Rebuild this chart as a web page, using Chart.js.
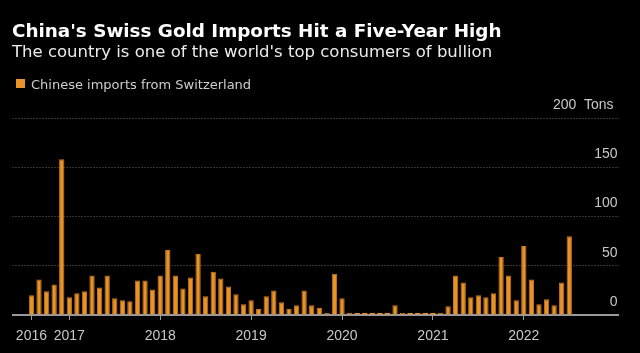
<!DOCTYPE html>
<html>
<head>
<meta charset="utf-8">
<script src="https://cdn.jsdelivr.net/npm/chart.js@4"></script>
<style>
  html, body { margin: 0; padding: 0; background: #000; }
  body { width: 640px; height: 353px; position: relative; overflow: hidden; }
  #grafico { position: absolute; left: 0; top: 0; }
  .txt { position: absolute; white-space: nowrap; line-height: 1; font-family: "DejaVu Sans", sans-serif; }
  #titulo { left: 12px; top: 21.7px; font-size: 18.35px; font-weight: bold; color: #fff; }
  #subtitulo { left: 12px; top: 44px; font-size: 16.5px; color: #ececec; }
  #leyenda { left: 31px; top: 78px; font-size: 13px; color: #cfcfcf; }
  #cuadro { position: absolute; left: 16px; top: 78.5px; width: 9px; height: 9px; background: #e8922a; }
</style>
</head>
<body>
<canvas id="grafico" width="640" height="353"></canvas>
<div class="txt" id="titulo">China's Swiss Gold Imports Hit a Five-Year High</div>
<div class="txt" id="subtitulo">The country is one of the world's top consumers of bullion</div>
<div id="cuadro"></div>
<div class="txt" id="leyenda">Chinese imports from Switzerland</div>
<script>
// --- Datos ---
// meses desde jun 2016 hasta ene 2023 (los extremos quedan vacios)
const meses = [
  '2016-06', '2016-07', '2016-08', '2016-09', '2016-10', '2016-11', '2016-12',
  '2017-01', '2017-02', '2017-03', '2017-04', '2017-05', '2017-06', '2017-07', '2017-08', '2017-09', '2017-10', '2017-11', '2017-12',
  '2018-01', '2018-02', '2018-03', '2018-04', '2018-05', '2018-06', '2018-07', '2018-08', '2018-09', '2018-10', '2018-11', '2018-12',
  '2019-01', '2019-02', '2019-03', '2019-04', '2019-05', '2019-06', '2019-07', '2019-08', '2019-09', '2019-10', '2019-11', '2019-12',
  '2020-01', '2020-02', '2020-03', '2020-04', '2020-05', '2020-06', '2020-07', '2020-08', '2020-09', '2020-10', '2020-11', '2020-12',
  '2021-01', '2021-02', '2021-03', '2021-04', '2021-05', '2021-06', '2021-07', '2021-08', '2021-09', '2021-10', '2021-11', '2021-12',
  '2022-01', '2022-02', '2022-03', '2022-04', '2022-05', '2022-06', '2022-07', '2022-08', '2022-09', '2022-10', '2022-11', '2022-12',
  '2023-01'
];

// toneladas importadas de Suiza
const importaciones = [
  null, null, 20, 36, 24, 31, 158,
  18, 22, 24, 40, 28, 40, 17, 15, 14, 35, 35, 26,
  40, 66, 40, 27, 38, 62, 19, 44, 37, 29, 21, 11,
  15, 6, 19, 25, 13, 6, 10, 25, 10, 7, 2, 42,
  17, 2, 0, 0, 0, 0, 0, 10, 2, 0, 0, 0,
  0, 2, 9, 40, 33, 18, 20, 18, 22, 59, 40, 15,
  70, 36, 11, 16, 10, 33, 80, null, null, null, null, null,
  null
];

// etiquetas del eje x: donde aparece cada año
const etiquetasAnio = { '2016-08': '2016', '2017-01': '2017', '2018-01': '2018', '2019-01': '2019', '2020-01': '2020', '2021-01': '2021', '2022-01': '2022' };
const ticksY = [0, 50, 100, 150, 200];

const fuente = '"Liberation Sans", sans-serif';

const ctx = document.getElementById('grafico').getContext('2d');

new Chart(ctx, {
  type: 'bar',
  data: {
    labels: meses,
    datasets: [{
      label: 'Chinese imports from Switzerland',
      data: importaciones,
      backgroundColor: '#e8922a',
      borderColor: '#c47619',
      borderWidth: function(c) {
        return c.raw ? { left: 1, right: 1, top: 1, bottom: 0 } : 0;
      },
      barPercentage: 0.7,
      categoryPercentage: 1,
      minBarLength: 2
    }]
  },
  options: {
    responsive: false,
    animation: false,
    layout: { padding: { top: 118, left: 12.5, right: 21.5, bottom: 0 } },
    plugins: {
      legend: { display: false },
      tooltip: { enabled: false }
    },
    scales: {
      x: {
        afterFit: function(eje) {
          eje.height = 38;
        },
        ticks: {
          autoSkip: false,
          maxRotation: 0,
          padding: 8,
          color: '#c8c8c8',
          font: { family: fuente, size: 14 },
          callback: function(valor, i) {
            return etiquetasAnio[meses[i]] || '';
          }
        },
        grid: {
          offset: false,
          drawOnChartArea: false,
          tickLength: 5,
          color: function(c) {
            const m = meses[c.index];
            return etiquetasAnio[m] ? '#999' : 'rgba(0,0,0,0)';
          }
        },
        border: { color: '#999', width: 2 }
      },
      y: {
        position: 'right',
        min: 0,
        max: 200,
        afterBuildTicks: function(eje) {
          eje.ticks = ticksY.map(v => ({ value: v }));
        },
        afterFit: function(eje) {
          eje.width = 0;
        },
        ticks: {
          mirror: true,
          padding: -1,
          labelOffset: -13,
          color: '#c8c8c8',
          font: { family: fuente, size: 14 },
          callback: function(valor) {
            return valor === 200 ? '200  Tons ' : String(valor);
          }
        },
        grid: {
          drawTicks: false,
          color: function(c) {
            return c.tick.value === 0 ? 'rgba(0,0,0,0)' : '#666';
          },
          lineWidth: 1
        },
        border: { display: false, dash: [1, 2] }
      }
    }
  }
});
</script>
</body>
</html>
